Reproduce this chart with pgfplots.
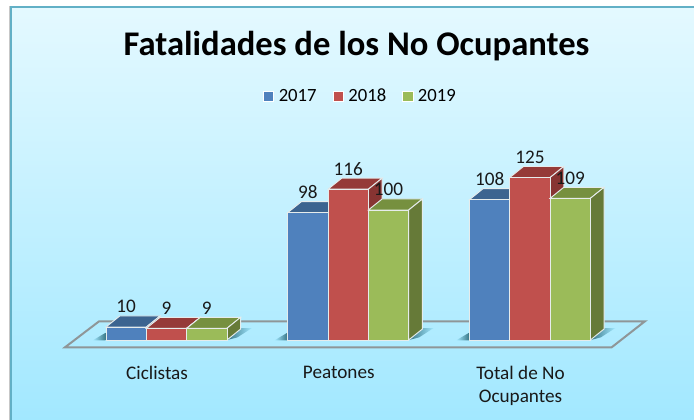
\documentclass[border=0pt]{standalone}
\usepackage{pgfplots}
\pgfplotsset{compat=1.18}
\usepackage{fontspec}
\setmainfont{Carlito}

\definecolor{azul}{HTML}{4F81BD}
\definecolor{azulT}{HTML}{3C6490}
\definecolor{rojo}{HTML}{C0504D}
\definecolor{rojoT}{HTML}{953A38}
\definecolor{rojoS}{HTML}{873432}
\definecolor{verde}{HTML}{9BBB59}
\definecolor{verdeT}{HTML}{76903F}
\definecolor{verdeS}{HTML}{667A38}
\definecolor{borde}{HTML}{E6ECEC}
\definecolor{piso}{HTML}{8F9698}
\definecolor{marco}{HTML}{62B0C6}
\definecolor{fondoA}{HTML}{E4F9FF}
\definecolor{fondoB}{HTML}{A2E8FF}
\definecolor{sombra}{HTML}{3A7888}

% cara superior y lateral de una barra: x central, valor, colores
\newcommand{\caja}[4]{%
  \pgfmathsetmacro\xa{#1-0.1109}%
  \pgfmathsetmacro\xb{#1+0.1109}%
  \pgfmathsetmacro\xc{#1+0.1863}%
  \pgfmathsetmacro\xd{#1-0.0355}%
  \pgfmathsetmacro\yb{#2+8.46}%
  \pgfmathsetmacro\yc{8.46}%
  \addplot[fill=#3, draw=borde, line width=0.7pt, forget plot] coordinates {(\xa,#2) (\xb,#2) (\xc,\yb) (\xd,\yb)} -- cycle;
  \addplot[fill=#4, draw=borde, line width=0.7pt, forget plot] coordinates {(\xb,0) (\xb,#2) (\xc,\yb) (\xc,\yc)} -- cycle;
}

\begin{document}
\begin{tikzpicture}
\useasboundingbox (0,0) rectangle (520.5pt,315pt);
% fondo
\fill[black!22] (7pt,0) rectangle (520.5pt,310.8pt);
\shade[top color=fondoA, bottom color=fondoB] (8.25pt,0) rectangle (520.5pt,309.9pt);
\draw[marco, line width=1.4pt] (520.5pt,309.9pt) -- (8.25pt,309.9pt) -- (8.25pt,0);
\begin{axis}[
    width=520.5pt, height=315pt, scale only axis,
    xmin=-0.9164, xmax=2.9029,
    ymin=-61.54, ymax=261.54,
    clip=false,
    axis line style={draw=none},
    ytick=\empty,
    xtick={-0.052,0.948,1.948},
    xticklabels={Ciclistas,Peatones,Total de No\\Ocupantes},
    major tick length=0pt,
    /pgf/number format/assume math mode=true,
    xticklabel style={font=\fontsize{14.4}{17.2}\selectfont, align=center, anchor=north, yshift=44pt, text=black!90},
    every axis title shift=0pt,
    title={\bfseries Fatalidades de los No Ocupantes},
    title style={font=\fontsize{25.95}{30}\selectfont, at={(axis description cs:0.5137,0.869)}, anchor=base},
    legend style={at={(axis description cs:0.5200,0.771)}, anchor=center, draw=none, fill=none,
        legend columns=3, font=\fontsize{14}{15}\selectfont,
        /tikz/every odd column/.append style={column sep=1.5pt},
        /tikz/every even column/.append style={column sep=10.2pt}},
    legend image code/.code={\fill[#1, draw=white, line width=0.5pt] (0pt,-3.8pt) rectangle (7.6pt,3.8pt);},
    every node near coord/.style={font=\fontsize{14.4}{15}\selectfont, anchor=base, yshift=10.5pt, text=black!90},
]
% piso
\draw[piso, line width=1.5pt] (axis cs:-0.5585,-5.6) -- (axis cs:2.450,-5.6) -- (axis cs:2.633,14.4) -- (axis cs:-0.3708,14.4) -- cycle;
% sombras
\shade[left color=fondoB, right color=sombra] (axis cs:-0.405,-0.2) -- (axis cs:-0.336,5.5) -- (axis cs:-0.336,-0.2) -- cycle;
\shade[left color=fondoB, right color=sombra] (axis cs:0.595,-0.2) -- (axis cs:0.664,5.5) -- (axis cs:0.664,-0.2) -- cycle;
\shade[left color=fondoB, right color=sombra] (axis cs:1.595,-0.2) -- (axis cs:1.664,5.5) -- (axis cs:1.664,-0.2) -- cycle;
\shade[left color=sombra, right color=fondoB] (axis cs:0.3346,0) -- (axis cs:0.41,9.2) -- (axis cs:0.47,9.2) -- (axis cs:0.39,2) -- cycle;
\shade[left color=sombra, right color=fondoB] (axis cs:1.3346,0) -- (axis cs:1.41,9.2) -- (axis cs:1.47,9.2) -- (axis cs:1.39,2) -- cycle;
\shade[left color=sombra, right color=fondoB] (axis cs:2.3346,0) -- (axis cs:2.41,9.2) -- (axis cs:2.47,9.2) -- (axis cs:2.39,2) -- cycle;

% 2017
\caja{-0.2218}{10}{azulT}{azulT}
\caja{0.7782}{98}{azulT}{azulT}
\caja{1.7782}{108}{azulT}{azulT}
\addplot[ybar, bar width=0.2218, bar shift=0, fill=azul, draw=borde, line width=0.7pt, nodes near coords]
    coordinates {(-0.2218,10) (0.7782,98) (1.7782,108)};
\addlegendentry{2017}

% 2018
\caja{0}{9}{rojoT}{rojoS}
\caja{1}{116}{rojoT}{rojoS}
\caja{2}{125}{rojoT}{rojoS}
\addplot[ybar, bar width=0.2218, bar shift=0, fill=rojo, draw=borde, line width=0.7pt, nodes near coords]
    coordinates {(0,9) (1,116) (2,125)};
\addlegendentry{2018}

% 2019
\caja{0.2218}{9}{verdeT}{verdeS}
\caja{1.2218}{100}{verdeT}{verdeS}
\caja{2.2218}{109}{verdeT}{verdeS}
\addplot[ybar, bar width=0.2218, bar shift=0, fill=verde, draw=borde, line width=0.7pt, nodes near coords]
    coordinates {(0.2218,9) (1.2218,100) (2.2218,109)};
\addlegendentry{2019}
\end{axis}
\end{tikzpicture}
\end{document}
